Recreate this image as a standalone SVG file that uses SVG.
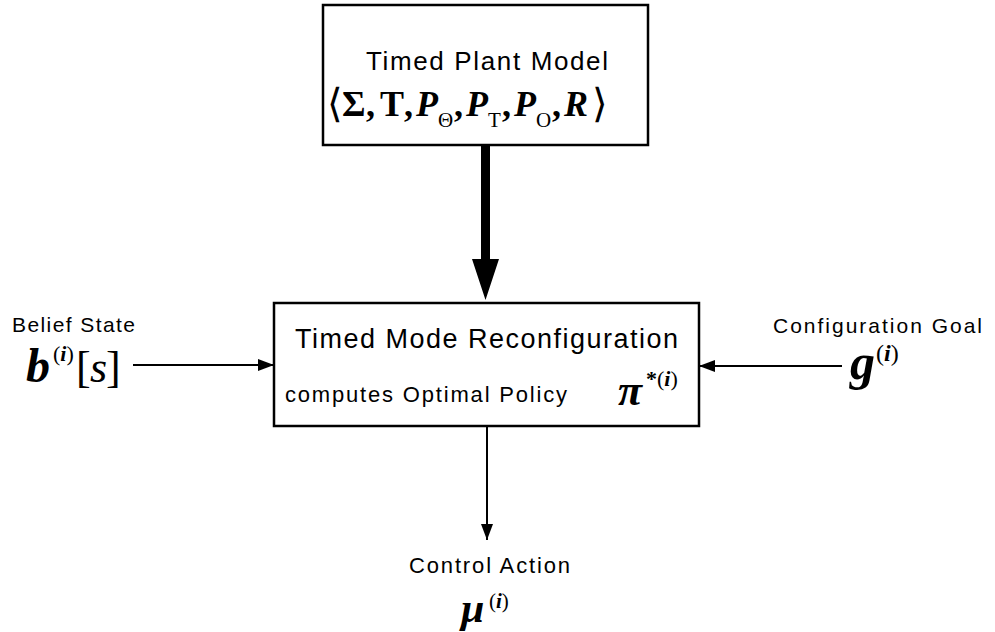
<svg xmlns="http://www.w3.org/2000/svg" width="995" height="632" viewBox="0 0 995 632">
<style>
.box{fill:#fff;stroke:#000;stroke-width:2.5}
.lab{font-family:"Liberation Sans",Arial,sans-serif;fill:#000}
.m{font-family:"Liberation Serif","Times New Roman",serif;fill:#000}
.bi{font-weight:bold;font-style:italic}
.b{font-weight:bold}
.it{font-style:italic}
.conn{stroke:#000;stroke-width:2;fill:none}
</style>
<defs>
<marker id="ah" markerUnits="userSpaceOnUse" markerWidth="16" markerHeight="12" refX="16" refY="6" orient="auto">
<path d="M0,0 L16,6 L0,12 z" fill="#000"/>
</marker>
</defs>
<rect width="995" height="632" fill="#fff"/>
<g id="connectors">
<path d="M481,145 L490,145 L490,259 L499,259 L485.5,300 L472,259 L481,259 z" fill="#000"/>
<line class="conn" x1="133" y1="365" x2="274" y2="365" marker-end="url(#ah)"/>
<line class="conn" x1="842" y1="366" x2="699" y2="366" marker-end="url(#ah)"/>
<line class="conn" x1="487" y1="426" x2="487" y2="540" marker-end="url(#ah)"/>
</g>
<g id="plant">
<rect class="box" x="323" y="5" width="325" height="140"/>
<text class="lab" x="366" y="70" font-size="26" textLength="242" lengthAdjust="spacing">Timed Plant Model</text>
<g class="m" font-size="36">
<text x="327" y="117" font-size="40">⟨</text>
<text class="b" x="342" y="116">Σ</text>
<text class="b" x="366" y="116">,</text>
<text class="b" x="380" y="116">T</text>
<text class="b" x="404" y="116">,</text>
<text class="bi" x="416" y="116">P</text>
<text x="438" y="127" font-size="21">Θ</text>
<text class="b" x="454" y="116">,</text>
<text class="bi" x="466" y="116">P</text>
<text x="488" y="127" font-size="21">T</text>
<text class="b" x="502" y="116">,</text>
<text class="bi" x="514" y="116">P</text>
<text x="536" y="127" font-size="21">O</text>
<text class="b" x="552" y="116">,</text>
<text class="bi" x="564" y="116">R</text>
<text x="592" y="117" font-size="40">⟩</text>
</g>
</g>
<g id="reconfig">
<rect class="box" x="274" y="303" width="425" height="123"/>
<text class="lab" x="295" y="348" font-size="27" textLength="383" lengthAdjust="spacing">Timed Mode Reconfiguration</text>
<text class="lab" x="285" y="402" font-size="22" textLength="282" lengthAdjust="spacing">computes Optimal Policy</text>
<text class="m bi" x="618" y="405" font-size="44">π</text>
<text class="m" x="646" y="386" font-size="22"><tspan class="b">*</tspan>(<tspan class="bi">i</tspan>)</text>
</g>
<g id="belief">
<text class="lab" x="12" y="332" font-size="21" textLength="123" lengthAdjust="spacing">Belief State</text>
<text class="m bi" x="26" y="382" font-size="48">b</text>
<text class="m" x="53" y="361" font-size="22">(<tspan class="bi">i</tspan>)</text>
<text class="m" x="76" y="382" font-size="44">[</text>
<text class="m it" x="90" y="382" font-size="44">s</text>
<text class="m" x="106" y="382" font-size="44">]</text>
</g>
<g id="goal">
<text class="lab" x="773" y="333" font-size="21" textLength="209" lengthAdjust="spacing">Configuration Goal</text>
<text class="m bi" x="850" y="379" font-size="50">g</text>
<text class="m" x="876" y="361" font-size="24">(<tspan class="bi">i</tspan>)</text>
</g>
<g id="action">
<text class="lab" x="409" y="573" font-size="22" textLength="161" lengthAdjust="spacing">Control Action</text>
<text class="m bi" x="461" y="622" font-size="42">μ</text>
<text class="m" x="489" y="608" font-size="21">(<tspan class="bi">i</tspan>)</text>
</g>
</svg>
